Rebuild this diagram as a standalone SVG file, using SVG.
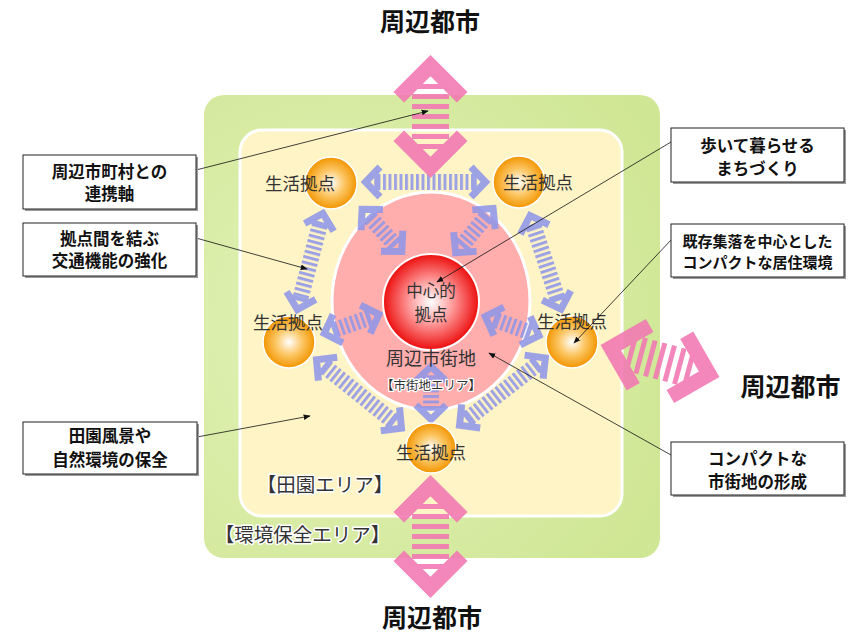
<svg xmlns="http://www.w3.org/2000/svg" xmlns:xlink="http://www.w3.org/1999/xlink" width="852" height="635" viewBox="0 0 852 635">
<defs>
<style>
.jp{font-family:"Noto Sans CJK JP","Noto Sans CJK SC",sans-serif;}
.lbl{font-size:17.5px;fill:#333;text-anchor:middle;}
.zone{font-size:19.5px;fill:#333;text-anchor:middle;stroke:#fff;stroke-width:3;paint-order:stroke;stroke-linejoin:round;}
.city{font-size:25px;font-weight:bold;fill:#111;text-anchor:middle;}
.cbox{fill:#fff;stroke:#222;stroke-width:1;}
.cshadow{fill:#9a9a9a;}
.ctxt{font-size:16.5px;font-weight:bold;fill:#111;text-anchor:middle;}
.leader{stroke:#111;stroke-width:0.8;fill:none;marker-end:url(#ah);}
.barrow{opacity:0.88;}
.bchev{fill:none;stroke:#8f97e8;stroke-width:7;stroke-linejoin:miter;}
.bbar{stroke:#8f97e8;stroke-width:4.5;}
.parrow{opacity:0.9;}
.pchev{fill:none;stroke:#f27ab3;stroke-width:15;stroke-linejoin:miter;}
.pstr{fill:#f27ab3;}
</style>
<radialGradient id="gGreen" cx="0.3" cy="0.5" r="0.8">
<stop offset="0" stop-color="#e2f2b8"/>
<stop offset="1" stop-color="#cfe694"/>
</radialGradient>
<radialGradient id="gOrange" cx="0.5" cy="0.5" r="0.5">
<stop offset="0" stop-color="#ffffff"/>
<stop offset="0.5" stop-color="#fcc766"/>
<stop offset="1" stop-color="#f29500"/>
</radialGradient>
<radialGradient id="gRed" cx="0.5" cy="0.5" r="0.5">
<stop offset="0" stop-color="#ffffff"/>
<stop offset="0.45" stop-color="#ff9c9c"/>
<stop offset="1" stop-color="#ec0e0e"/>
</radialGradient>
<pattern id="bstripe" patternUnits="userSpaceOnUse" width="5.5" height="16">
<rect x="0" y="0" width="3" height="16" fill="#8f97e8"/>
</pattern>
<marker id="ah" viewBox="0 0 10 10" refX="9" refY="5" markerWidth="7" markerHeight="7" orient="auto" markerUnits="userSpaceOnUse">
<path d="M0,1 L10,5 L0,9 Z" fill="#111"/>
</marker>
<g id="bh">
<polyline class="bchev" points="19,-15 4.5,0 19,15"/>
<line class="bbar" x1="15.5" y1="-11.5" x2="15.5" y2="11.5"/>
</g>
<g id="pa">
<rect class="pstr" x="-18.5" y="-32.5" width="37" height="5"/>
<rect class="pstr" x="-18.5" y="-22.5" width="37" height="5"/>
<rect class="pstr" x="-18.5" y="-12.5" width="37" height="5"/>
<rect class="pstr" x="-18.5" y="-2.5" width="37" height="5"/>
<rect class="pstr" x="-18.5" y="7.5" width="37" height="5"/>
<rect class="pstr" x="-18.5" y="17.5" width="37" height="5"/>
<rect class="pstr" x="-18.5" y="27.5" width="37" height="5"/>
<polyline class="pchev" points="-31.7,-19.2 0,-50.9 31.7,-19.2"/>
<polyline class="pchev" points="-31.7,19.2 0,50.9 31.7,19.2"/>
</g>
</defs>

<rect width="852" height="635" fill="#fff"/>

<g id="area-env">
<rect x="204" y="95" width="456" height="463" rx="20" fill="url(#gGreen)"/>
</g>
<g id="area-rural">
<rect x="240" y="130" width="382" height="386" rx="22" fill="#fff4c6" stroke="#fff" stroke-width="3"/>
</g>
<g id="area-urban">
<ellipse cx="431" cy="301" rx="99" ry="109" fill="#ffadad" stroke="#fff" stroke-width="3"/>
</g>

<g id="connectors">
<g class="barrow" transform="translate(361,182) rotate(0)">
<rect x="15" y="-8" width="99" height="16" fill="url(#bstripe)"/>
<use href="#bh"/><use href="#bh" transform="translate(129,0) scale(-1,1)"/>
</g>
<g class="barrow" transform="translate(324,209) rotate(104.8)">
<rect x="15" y="-8" width="78.5" height="16" fill="url(#bstripe)"/>
<use href="#bh"/><use href="#bh" transform="translate(108.5,0) scale(-1,1)"/>
</g>
<g class="barrow" transform="translate(313,357) rotate(38.8)">
<rect x="15" y="-8" width="88" height="16" fill="url(#bstripe)"/>
<use href="#bh"/><use href="#bh" transform="translate(118,0) scale(-1,1)"/>
</g>
<g class="barrow" transform="translate(456,428) rotate(-38.1)">
<rect x="15" y="-8" width="88" height="16" fill="url(#bstripe)"/>
<use href="#bh"/><use href="#bh" transform="translate(118,0) scale(-1,1)"/>
</g>
<g class="barrow" transform="translate(528.7,211.4) rotate(71.7)">
<rect x="15" y="-8" width="77.5" height="16" fill="url(#bstripe)"/>
<use href="#bh"/><use href="#bh" transform="translate(107.5,0) scale(-1,1)"/>
</g>
<g class="barrow" transform="translate(359,206) rotate(46.8)">
<rect x="15" y="-8" width="37" height="16" fill="url(#bstripe)"/>
<use href="#bh"/><use href="#bh" transform="translate(67,0) scale(-1,1)"/>
</g>
<g class="barrow" transform="translate(496,205) rotate(130.1)">
<rect x="15" y="-8" width="37" height="16" fill="url(#bstripe)"/>
<use href="#bh"/><use href="#bh" transform="translate(67,0) scale(-1,1)"/>
</g>
<g class="barrow" transform="translate(320,335) rotate(-19.2)">
<rect x="15" y="-8" width="37" height="16" fill="url(#bstripe)"/>
<use href="#bh"/><use href="#bh" transform="translate(67,0) scale(-1,1)"/>
</g>
<g class="barrow" transform="translate(481,315) rotate(19.5)">
<rect x="15" y="-8" width="36" height="16" fill="url(#bstripe)"/>
<use href="#bh"/><use href="#bh" transform="translate(66,0) scale(-1,1)"/>
</g>
<g class="barrow" transform="translate(431,362) rotate(90)">
<rect x="15" y="-8" width="32" height="16" fill="url(#bstripe)"/>
<use href="#bh"/><use href="#bh" transform="translate(62,0) scale(-1,1)"/>
</g>

<use class="parrow" href="#pa" transform="translate(430.5,116.5)"/>
<use class="parrow" href="#pa" transform="translate(430.5,536.5)"/>
<use class="parrow" href="#pa" transform="translate(660,361) rotate(-75)"/>
</g>

<g id="node-center">
<circle cx="431" cy="302" r="48" fill="url(#gRed)" stroke="#fff" stroke-width="2"/>
<text class="jp lbl" style="font-size:16.5px"><tspan x="431" y="297">中心的</tspan><tspan x="431" y="320.5">拠点</tspan></text>
</g>
<g id="label-urban">
<text class="jp lbl" x="431" y="364.5" style="font-size:18px">周辺市街地</text>
<text class="jp zone" x="431" y="389.5" style="font-size:12.5px;stroke-width:2.5">【市街地エリア】</text>
</g>

<g id="node-life-tl">
<circle cx="331" cy="183" r="26" fill="url(#gOrange)" stroke="#fff" stroke-width="1.5"/>
<text class="jp lbl" x="300" y="189.5">生活拠点</text>
</g>
<g id="node-life-tr">
<circle cx="519" cy="182" r="26" fill="url(#gOrange)" stroke="#fff" stroke-width="1.5"/>
<text class="jp lbl" x="538" y="189">生活拠点</text>
</g>
<g id="node-life-l">
<circle cx="289" cy="342" r="26" fill="url(#gOrange)" stroke="#fff" stroke-width="1.5"/>
<text class="jp lbl" x="288" y="329">生活拠点</text>
</g>
<g id="node-life-r">
<circle cx="572" cy="342" r="26" fill="url(#gOrange)" stroke="#fff" stroke-width="1.5"/>
<text class="jp lbl" x="572" y="328">生活拠点</text>
</g>
<g id="node-life-b">
<circle cx="431" cy="448" r="25" fill="url(#gOrange)" stroke="#fff" stroke-width="1.5"/>
<text class="jp lbl" x="431" y="459">生活拠点</text>
</g>

<g id="zone-labels">
<text class="jp zone" x="325" y="491.5">【田園エリア】</text>
<text class="jp zone" x="302.5" y="541.5">【環境保全エリア】</text>
</g>

<g id="city-top"><text class="jp city" x="430" y="31">周辺都市</text></g>
<g id="city-right"><text class="jp city" x="790.5" y="396">周辺都市</text></g>
<g id="city-bottom"><text class="jp city" x="432" y="627">周辺都市</text></g>

<g id="leaders">
<line class="leader" x1="196" y1="170" x2="428" y2="111"/>
<line class="leader" x1="196" y1="238" x2="307" y2="269"/>
<line class="leader" x1="197" y1="437" x2="310" y2="416"/>
<line class="leader" x1="671" y1="142" x2="437" y2="282"/>
<line class="leader" x1="671" y1="240" x2="574" y2="343"/>
<line class="leader" x1="671" y1="455" x2="489" y2="353"/>
</g>

<g id="callout-1">
<rect class="cshadow" x="25" y="157" width="173" height="54"/>
<rect class="cbox" x="23" y="155" width="173" height="54"/>
<text class="jp ctxt" x="109.5" y="178">周辺市町村との</text>
<text class="jp ctxt" x="109.5" y="200">連携軸</text>
</g>
<g id="callout-2">
<rect class="cshadow" x="25" y="225" width="173" height="53"/>
<rect class="cbox" x="23" y="223" width="173" height="53"/>
<text class="jp ctxt" x="109.5" y="245">拠点間を結ぶ</text>
<text class="jp ctxt" x="109.5" y="267">交通機能の強化</text>
</g>
<g id="callout-3">
<rect class="cshadow" x="25" y="424" width="174" height="52"/>
<rect class="cbox" x="23" y="422" width="174" height="52"/>
<text class="jp ctxt" x="110" y="441.5">田園風景や</text>
<text class="jp ctxt" x="110" y="466">自然環境の保全</text>
</g>
<g id="callout-4">
<rect class="cshadow" x="673" y="130" width="173" height="54"/>
<rect class="cbox" x="671" y="128" width="173" height="54"/>
<text class="jp ctxt" x="757.5" y="152">歩いて暮らせる</text>
<text class="jp ctxt" x="757.5" y="174.5">まちづくり</text>
</g>
<g id="callout-5">
<rect class="cshadow" x="673" y="226" width="173" height="53"/>
<rect class="cbox" x="671" y="224" width="173" height="53"/>
<text class="jp ctxt" x="757.5" y="247" style="font-size:15px">既存集落を中心とした</text>
<text class="jp ctxt" x="757.5" y="268" style="font-size:15px">コンパクトな居住環境</text>
</g>
<g id="callout-6">
<rect class="cshadow" x="673" y="444" width="173" height="53"/>
<rect class="cbox" x="671" y="442" width="173" height="53"/>
<text class="jp ctxt" x="757.5" y="465">コンパクトな</text>
<text class="jp ctxt" x="757.5" y="488">市街地の形成</text>
</g>
</svg>
